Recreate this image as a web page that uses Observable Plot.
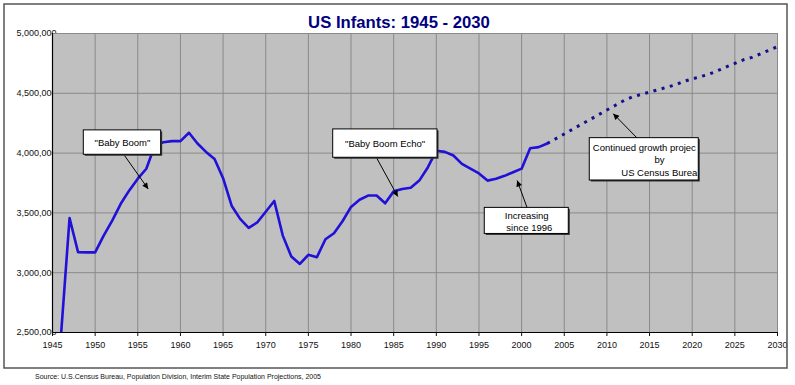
<!DOCTYPE html>
<html><head><meta charset="utf-8">
<script src="https://cdn.jsdelivr.net/npm/d3@7"></script>
<script src="https://cdn.jsdelivr.net/npm/@observablehq/plot@0.6"></script>
<style>body{margin:0;background:#fff;}</style>
</head><body><div id="chart"></div>
<script>
const title = "US Infants: 1945 - 2030";
const source = "Source: U.S.Census Bureau, Population Division, Interim State Population Projections, 2005";

const years = [1946,1947,1948,1949,1950,1951,1952,1953,1954,1955,1956,1957,1958,1959,1960,1961,1962,1963,1964,1965,1966,1967,1968,1969,1970,1971,1972,1973,1974,1975,1976,1977,1978,1979,1980,1981,1982,1983,1984,1985,1986,1987,1988,1989,1990,1991,1992,1993,1994,1995,1996,1997,1998,1999,2000,2001,2002,2003];
const infants = [2480000,3456000,3171000,3170000,3170000,3310000,3436000,3576000,3688000,3786000,3869000,4065000,4090000,4100000,4100000,4170000,4080000,4010000,3950000,3790000,3560000,3450000,3375000,3420000,3510000,3600000,3310000,3135000,3073000,3150000,3130000,3280000,3330000,3430000,3550000,3610000,3645000,3645000,3580000,3680000,3700000,3710000,3770000,3880000,4020000,4010000,3980000,3910000,3870000,3830000,3770000,3785000,3810000,3840000,3870000,4040000,4050000,4080000];

const projYears = [2003,2004,2005,2006,2007,2008,2009,2010,2011,2012,2013,2014,2015,2016,2017,2018,2019,2020,2021,2022,2023,2024,2025,2026,2027,2028,2029,2030];
const projInfants = [4080000,4120000,4160000,4200000,4240000,4280000,4320000,4360000,4400000,4440000,4470000,4490000,4510000,4530000,4550000,4570000,4600000,4620000,4640000,4660000,4690000,4720000,4750000,4780000,4800000,4830000,4860000,4890000];

const xTicks = [1945,1950,1955,1960,1965,1970,1975,1980,1985,1990,1995,2000,2005,2010,2015,2020,2025,2030];
const yTicks = [2500000,3000000,3500000,4000000,4500000,5000000];

// annotation callouts (data coordinates)
const annBoxes = [
  {x1:1948.67, x2:1957.74, y1:3986000, y2:4190000},
  {x1:1977.91, x2:1990.14, y1:3961000, y2:4198000},
  {x1:1995.68, x2:2005.53, y1:3324000, y2:3542000},
  {x1:2007.99, x2:2020.77, y1:3771000, y2:4125000}
];
const annTextsMiddle = [
  {x:1953.2, y:4088000, text:"\"Baby Boom\""},
  {x:1984.0, y:4080000, text:"\"Baby Boom Echo\""},
  {x:2000.6, y:3478000, text:"Increasing"},
  {x:2000.9, y:3378000, text:"since 1996"},
  {x:2016.16, y:3939000, text:"by"}
];
const annTextsStart = [
  {x:2008.35, y:4039000, text:"Continued growth projec"}
];
const annTextsEnd = [
  {x:2020.6, y:3838000, text:"US Census Burea"}
];
const annArrows = [
  {x1:1953.44, y1:3980000, x2:1956.22, y2:3700000},
  {x1:1982.99, y1:3961000, x2:1985.48, y2:3637000},
  {x1:2000.65, y1:3542000, x2:1999.48, y2:3771000},
  {x1:2013.55, y1:4125000, x2:2010.74, y2:4330000}
];

const actual = years.map((y,i)=>({year:y, value:infants[i]}));
const proj = projYears.map((y,i)=>({year:y, value:projInfants[i]}));

const font = "Liberation Sans, Arial, sans-serif";
const txt = {x:"x", y:"y", text:"text", fontSize:9.5, fill:"#000"};

const plot = Plot.plot({
  width: 795, height: 385,
  marginLeft: 52, marginRight: 18, marginTop: 33, marginBottom: 53,
  style: {fontFamily: font, fontSize: "9px", background: "white", color: "#111"},
  x: {domain:[1945,2030], ticks: xTicks, label: null},
  y: {domain:[2500000,5000000], ticks: yTicks, label: null},
  marks: [
    Plot.axisY({ticks: yTicks, tickFormat: d3.format(","), tickSize: 0, tickPadding: -4, fontSize: 9, label: null}),
    Plot.frame({fill:"#c0c0c0", stroke:"#808080"}),
    Plot.gridX({ticks: xTicks, stroke:"#8a8a8a", strokeOpacity:1, strokeWidth:1}),
    Plot.gridY({ticks: yTicks, stroke:"#8a8a8a", strokeOpacity:1, strokeWidth:1}),
    Plot.ruleX([1945], {stroke:"#000", strokeWidth:1.2}),
    Plot.ruleY([2500000], {stroke:"#000", strokeWidth:1.2}),
    Plot.axisX({ticks: xTicks, tickFormat: d=>String(d), tickSize: 4, tickPadding: 5, fontSize: 9, label: null}),
    Plot.line(proj, {x:"year", y:"value", stroke:"#14108a", strokeWidth:3, strokeDasharray:"3,5.5", strokeLinecap:"butt", clip:true}),
    Plot.line(actual, {x:"year", y:"value", stroke:"#2010d8", strokeWidth:2.6, clip:true}),
    Plot.link(annArrows, {x1:"x1", y1:"y1", x2:"x2", y2:"y2", stroke:"#000", strokeWidth:1, className:"ann-arrow"}),
    Plot.rect(annBoxes, {x1:"x1", x2:"x2", y1:"y1", y2:"y2", fill:"#333", dx:1.5, dy:1.5}),
    Plot.rect(annBoxes, {x1:"x1", x2:"x2", y1:"y1", y2:"y2", fill:"white", stroke:"#000", strokeWidth:1}),
    Plot.text(annTextsMiddle, {...txt, textAnchor:"middle"}),
    Plot.text(annTextsStart, {...txt, textAnchor:"start"}),
    Plot.text(annTextsEnd, {...txt, textAnchor:"end"})
  ]
});

const svg = d3.select(plot);
const defs = svg.append("defs");
defs.append("marker").attr("id","ah").attr("viewBox","0 0 10 10")
  .attr("refX",10).attr("refY",5).attr("markerWidth",8).attr("markerHeight",6)
  .attr("markerUnits","userSpaceOnUse").attr("orient","auto")
  .append("path").attr("d","M0,0L10,5L0,10Z").attr("fill","#000");
svg.selectAll(".ann-arrow path").attr("marker-end","url(#ah)");

// outer chart border
svg.append("rect").attr("x",4).attr("y",4).attr("width",783).attr("height",364)
  .attr("fill","none").attr("stroke","#555").attr("stroke-width",1.5);
// title
svg.append("text").attr("x",399).attr("y",27.5).attr("text-anchor","middle")
  .attr("font-family",font).attr("font-weight","bold").attr("font-size",16.7)
  .attr("fill","#000080").text(title);
// source
svg.append("text").attr("x",35).attr("y",379).attr("text-anchor","start").attr("font-family",font)
  .attr("font-size",7).attr("fill","#111").text(source);

document.getElementById("chart").appendChild(plot);
</script>
</body></html>
